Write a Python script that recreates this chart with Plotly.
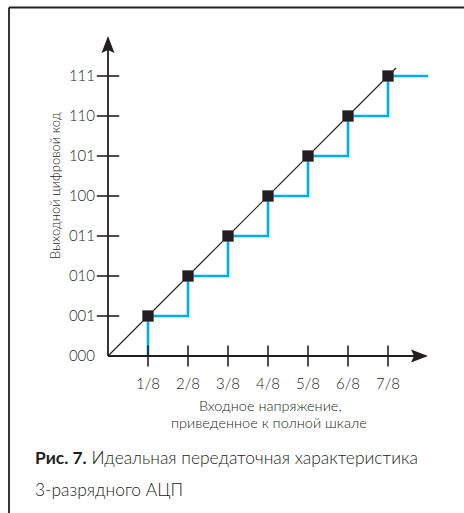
import plotly.graph_objects as go

# ---- data ----
transitions = [1/8, 2/8, 3/8, 4/8, 5/8, 6/8, 7/8]      # input voltage (fraction of full scale)
codes = [1, 2, 3, 4, 5, 6, 7]                          # output code index
full_scale = 1.0
x_tick_labels = ["1/8", "2/8", "3/8", "4/8", "5/8", "6/8", "7/8"]
y_tick_vals = [0, 1, 2, 3, 4, 5, 6, 7]
y_tick_labels = ["000", "001", "010", "011", "100", "101", "110", "111"]
ideal_x = [0, 0.9]
ideal_y = [0, 7.2]
y_axis_end = 8.0

INK = "#231f20"
BLUE = "#00aeef"
FONT = "Lato"
LIGHT = 300

W, H = 464, 513
X0_PX, Y0_PX = 108, 356
PX_PER_X = 320.0
PX_PER_Y = 40.0

x_range = [-X0_PX / PX_PER_X, (W - X0_PX) / PX_PER_X]
y_range = [-(H - Y0_PX) / PX_PER_Y, Y0_PX / PX_PER_Y]

fig = go.Figure()

# step transfer characteristic
fig.add_trace(go.Scatter(
    x=transitions + [full_scale], y=[0] + codes,
    mode="lines", line=dict(color=BLUE, width=2.6, shape="vh"),
    hoverinfo="skip", showlegend=False))

# ideal straight line
fig.add_trace(go.Scatter(
    x=ideal_x, y=ideal_y, mode="lines",
    line=dict(color=INK, width=1.2), hoverinfo="skip", showlegend=False))

# crossing tick marks
fig.add_trace(go.Scatter(
    x=transitions, y=[0] * len(transitions), mode="markers",
    marker=dict(symbol="line-ns", size=15, line=dict(color=INK, width=1.6)),
    hoverinfo="skip", showlegend=False))
fig.add_trace(go.Scatter(
    x=[0] * len(codes), y=codes, mode="markers",
    marker=dict(symbol="line-ew", size=16, line=dict(color=INK, width=1.6)),
    hoverinfo="skip", showlegend=False))

# square markers at code transitions
fig.add_trace(go.Scatter(
    x=transitions, y=codes, mode="markers",
    marker=dict(symbol="square", size=11, color=INK,
                line=dict(color="#555", width=0.6)),
    hoverinfo="skip", showlegend=False))

shapes = [
    # axis lines
    dict(type="line", xref="x", yref="y", x0=0, y0=0, x1=full_scale - 0.03, y1=0,
         line=dict(color=INK, width=1.8)),
    dict(type="line", xref="x", yref="y", x0=0, y0=0, x1=0, y1=y_axis_end - 0.2,
         line=dict(color=INK, width=1.8)),
    # arrow heads
    dict(type="path", xref="x", yref="y", xsizemode="pixel", ysizemode="pixel",
         xanchor=0, yanchor=y_axis_end,
         path="M0,0 L-6.5,-17 L0,-14 L6.5,-17 Z", fillcolor=INK, line=dict(width=0)),
    dict(type="path", xref="x", yref="y", xsizemode="pixel", ysizemode="pixel",
         xanchor=full_scale, yanchor=0,
         path="M0,0 L-17,6.5 L-14,0 L-17,-6.5 Z", fillcolor=INK, line=dict(width=0)),
    # frame
    dict(type="line", xref="paper", yref="paper", x0=9 / W, x1=1, y0=(H - 7.5) / H, y1=(H - 7.5) / H,
         line=dict(color=INK, width=1.8)),
    dict(type="line", xref="paper", yref="paper", x0=9 / W, x1=9 / W, y0=0, y1=(H - 7.5) / H,
         line=dict(color=INK, width=1.8)),
]

def pap_y(py):
    return (H - py) / H

def ann(text, px, py, size, xanchor="center", angle=0):
    return dict(text=text, xref="paper", yref="paper", x=px / W, y=pap_y(py),
                xanchor=xanchor, yanchor="middle", textangle=angle, showarrow=False,
                font=dict(family=FONT, size=size, color=INK, weight=LIGHT))

annotations = [
    ann("Выходной цифровой код", 55, 186, 13, angle=-90),
    ann("Входное напряжение,", 270, 405, 14.5),
    ann("приведенное к полной шкале", 269, 422, 14.5),
    ann("<b>Рис. 7.</b> Идеальная передаточная характеристика", 33, 457, 17.4, xanchor="left"),
    ann("3-разрядного АЦП", 33, 489, 17.4, xanchor="left"),
]

fig.update_layout(
    width=W, height=H, margin=dict(l=0, r=0, t=0, b=0),
    paper_bgcolor="white", plot_bgcolor="white",
    shapes=shapes, annotations=annotations, showlegend=False,
    xaxis=dict(range=x_range, domain=[0, 1], anchor="free", position=(H - Y0_PX) / H,
               showgrid=False, zeroline=False, showline=False,
               tickvals=transitions, ticktext=x_tick_labels,
               ticks="outside", ticklen=14, tickcolor="rgba(0,0,0,0)",
               tickfont=dict(family=FONT, size=15, color=INK, weight=LIGHT), fixedrange=True),
    yaxis=dict(range=y_range, domain=[0, 1], anchor="free", position=X0_PX / W,
               showgrid=False, zeroline=False, showline=False,
               tickvals=y_tick_vals, ticktext=y_tick_labels,
               ticks="outside", ticklen=10, tickcolor="rgba(0,0,0,0)",
               tickfont=dict(family=FONT, size=15, color=INK, weight=LIGHT), fixedrange=True),
)

fig.write_html("out.html", config={"displayModeBar": False},
               post_script="document.body.style.margin='0px';document.body.style.overflow='hidden';")
